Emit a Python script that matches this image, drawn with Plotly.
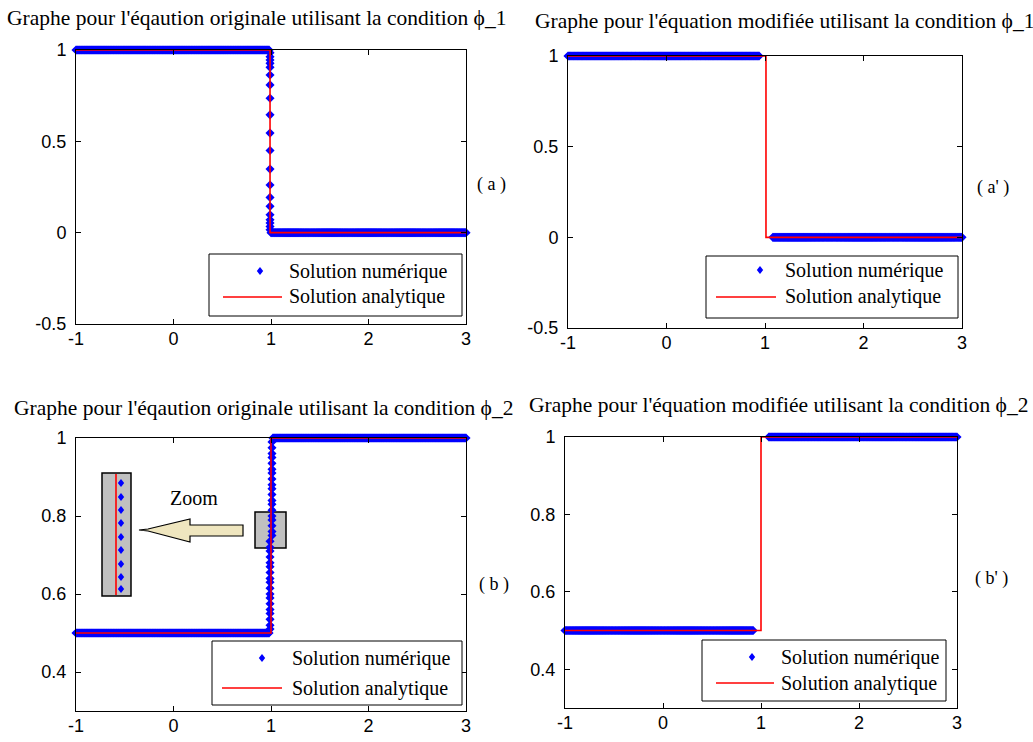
import numpy as np
import plotly.graph_objects as go

W, H = 1033, 742

# ---------------- data ----------------
# discretisation grid of the numerical scheme (step 0.01)
x_grid = np.round(np.arange(-1.0, 3.0001, 0.01), 4)

# (a) original equation, condition phi_1
a_left_val, a_right_val = 1.0, 0.0
a_jump_x = 0.99
a_jump_y = [0.985, 0.963, 0.945, 0.927, 0.905, 0.863, 0.809, 0.736, 0.645, 0.545,
            0.45, 0.348, 0.261, 0.193, 0.144, 0.098, 0.071, 0.053, 0.034, 0.016]
a_num_left_end, a_num_right_start = 0.98, 1.0
a_exact_x = [-1, 0.99, 0.99, 3]
a_exact_y = [1, 1, 0, 0]

# (a') modified equation, condition phi_1
ap_num_left_end, ap_num_right_start = 0.94, 1.08
ap_exact_x = [-1, 1.01, 1.01, 3]
ap_exact_y = [1, 1, 0, 0]

# (b) original equation, condition phi_2
b_left_val, b_right_val = 0.5, 1.0
b_jump_y = [0.51, 0.52, 0.535, 0.55, 0.56, 0.575, 0.59, 0.60, 0.615, 0.63, 0.64, 0.655,
            0.67, 0.68, 0.695, 0.71, 0.72, 0.735, 0.75, 0.76, 0.775, 0.79, 0.80, 0.815,
            0.83, 0.84, 0.855, 0.87, 0.88, 0.895, 0.91, 0.92, 0.935, 0.95, 0.96, 0.975, 0.99]
b_jump_x = [0.99] * 18 + [1.01] * 19
b_num_left_end, b_num_right_start = 0.98, 1.02
b_exact_x = [-1, 1.0, 1.0, 3]
b_exact_y = [0.5, 0.5, 1, 1]

# (b') modified equation, condition phi_2
bp_num_left_end, bp_num_right_start = 0.92, 1.08
bp_exact_x = [-1, 1.0, 1.0, 3]
bp_exact_y = [0.5, 0.5, 1, 1]

x_ticks = [-1, 0, 1, 2, 3]
x_ticktext = ["-1", "0", "1", "2", "3"]
ya_ticks = [-0.5, 0, 0.5, 1]
ya_ticktext = ["-0.5", "0", "0.5", "1"]
yb_ticks = [0.4, 0.6, 0.8, 1]
yb_ticktext = ["0.4", "0.6", "0.8", "1"]

titles = ["Graphe pour l'éqaution originale utilisant la condition \u03d5_1",
          "Graphe pour l'équation modifiée utilisant la condition \u03d5_1",
          "Graphe pour l'éqaution originale utilisant la condition \u03d5_2",
          "Graphe pour l'équation modifiée utilisant la condition \u03d5_2"]
panel_labels = ["( a )", "( a' )", "( b )", "( b' )"]
legend_names = ["Solution numérique", "Solution analytique"]


def fx(px):
    return px / W


def fy(py):
    return 1 - py / H


def step_series(left_end, right_start, left_val, right_val, jx=None, jy=None):
    xl = x_grid[x_grid <= left_end + 1e-9]
    xr = x_grid[x_grid >= right_start - 1e-9]
    xs = list(xl)
    ys = [left_val] * len(xl)
    if jx is not None:
        xs += list(jx)
        ys += list(jy)
    xs += list(xr)
    ys += [right_val] * len(xr)
    return xs, ys


series = [
    step_series(a_num_left_end, a_num_right_start, a_left_val, a_right_val,
                [a_jump_x] * len(a_jump_y), a_jump_y),
    step_series(ap_num_left_end, ap_num_right_start, a_left_val, a_right_val),
    step_series(b_num_left_end, b_num_right_start, b_left_val, b_right_val, b_jump_x, b_jump_y),
    step_series(bp_num_left_end, bp_num_right_start, b_left_val, b_right_val),
]
exact = [(a_exact_x, a_exact_y), (ap_exact_x, ap_exact_y),
         (b_exact_x, b_exact_y), (bp_exact_x, bp_exact_y)]

fig = go.Figure()
for i in range(4):
    ax = "" if i == 0 else str(i + 1)
    xs, ys = series[i]
    fig.add_trace(go.Scatter(x=xs, y=ys, mode="markers", name=legend_names[0],
                             marker=dict(symbol="diamond", size=7, color="#0000FF",
                                         line=dict(width=0)),
                             cliponaxis=False, showlegend=False,
                             xaxis="x" + ax, yaxis="y" + ax))
    ex, ey = exact[i]
    fig.add_trace(go.Scatter(x=ex, y=ey, mode="lines", name=legend_names[1],
                             line=dict(color="#FF0000", width=1.6),
                             cliponaxis=False, showlegend=False,
                             xaxis="x" + ax, yaxis="y" + ax))

domains = [((76, 466), (50, 324)), ((568, 962), (56, 328)),
           ((76, 466), (438, 711)), ((565, 957), (437, 708))]
tick_font = dict(family="Liberation Sans, Arial", size=18, color="black")
layout = dict(width=W, height=H, margin=dict(l=0, r=0, t=0, b=0, autoexpand=False),
              paper_bgcolor="white", plot_bgcolor="white", showlegend=False)
for i, ((x0, x1), (y0, y1)) in enumerate(domains):
    k = "" if i == 0 else str(i + 1)
    common = dict(showline=True, linecolor="black", linewidth=1, mirror="ticks",
                  ticks="inside", ticklen=5, tickcolor="black", tickwidth=1,
                  showgrid=False, zeroline=False, tickfont=tick_font, automargin=False)
    layout["xaxis" + k] = dict(domain=[fx(x0), fx(x1)], range=[-1, 3],
                               tickvals=x_ticks, ticktext=x_ticktext,
                               anchor="y" + k, ticklabelstandoff=-2, **common)
    if i < 2:
        yr, tv, tt = [-0.5, 1], ya_ticks, ya_ticktext
    else:
        yr, tv, tt = [0.3, 1], yb_ticks, yb_ticktext
    layout["yaxis" + k] = dict(domain=[fy(y1), fy(y0)], range=yr, tickvals=tv,
                               ticktext=tt, anchor="x" + k, ticklabelstandoff=5, **common)
fig.update_layout(**layout)

serif = "Liberation Serif, Times New Roman, serif"
ann = []
title_pos = [(5, 18), (533, 21), (12, 408), (527, 405)]
for t, (px, py) in zip(titles, title_pos):
    ann.append(dict(text=t, x=fx(px), y=fy(py), xref="paper", yref="paper",
                    xanchor="left", yanchor="middle", showarrow=False,
                    font=dict(family=serif, size=21.5, color="black")))
label_pos = [(491, 185), (993, 187), (494, 584), (991, 578)]
for t, (px, py) in zip(panel_labels, label_pos):
    ann.append(dict(text=t, x=fx(px), y=fy(py), xref="paper", yref="paper",
                    xanchor="center", yanchor="middle", showarrow=False,
                    font=dict(family=serif, size=18, color="black")))

shapes = []


def diamond(px, py, r=4):
    shapes.append(dict(type="path", xref="paper", yref="paper",
                       xsizemode="pixel", ysizemode="pixel",
                       xanchor=fx(px), yanchor=fy(py),
                       path=f"M0,{r} L{r*0.8},0 L0,{-r} L{-r*0.8},0 Z",
                       fillcolor="#0000FF", line=dict(width=0), layer="above"))


def hline(x0, x1, y, color="#FF0000", w=1.6):
    shapes.append(dict(type="line", xref="paper", yref="paper",
                       x0=fx(x0), x1=fx(x1), y0=fy(y), y1=fy(y),
                       line=dict(color=color, width=w), layer="above"))


# legends (box, marker, line, text x, text ys)
legends = [((209, 254, 462, 316), (260, 271), (223, 282, 297), 287, (271, 297)),
           ((706, 256, 958, 318), (760, 270), (716, 776, 297), 783, (270, 297)),
           ((212, 641, 462, 705), (262, 658), (222, 282, 688), 290, (658, 688)),
           ((702, 640, 946, 701), (752, 657), (716, 774, 683), 779, (657, 683))]
for box, mk, ln, tx, tys in legends:
    shapes.append(dict(type="rect", xref="paper", yref="paper",
                       x0=fx(box[0]), x1=fx(box[2]), y0=fy(box[3]), y1=fy(box[1]),
                       line=dict(color="black", width=1), fillcolor="white", layer="above"))
    diamond(*mk, r=4)
    hline(ln[0], ln[1], ln[2])
    for name, ty in zip(legend_names, tys):
        ann.append(dict(text=name, x=fx(tx), y=fy(ty), xref="paper", yref="paper",
                        xanchor="left", yanchor="middle", showarrow=False,
                        font=dict(family=serif, size=20, color="black")))

# zoom inset decoration in panel (b)
shapes.append(dict(type="rect", xref="paper", yref="paper",
                   x0=fx(255), x1=fx(286), y0=fy(548), y1=fy(512),
                   line=dict(color="black", width=1.5), fillcolor="#C0C0C0", layer="below"))
shapes.append(dict(type="rect", xref="paper", yref="paper",
                   x0=fx(102), x1=fx(131), y0=fy(596), y1=fy(473),
                   line=dict(color="black", width=1.5), fillcolor="#C0C0C0", layer="above"))
shapes.append(dict(type="line", xref="paper", yref="paper", x0=fx(116), x1=fx(116),
                   y0=fy(474), y1=fy(595), line=dict(color="#FF0000", width=1.6),
                   layer="above"))
for py in [483, 497, 510, 523, 537, 550, 564, 577, 589]:
    diamond(121, py, r=4)
arrow_pts = [(139, 530), (148, 529), (190, 519), (190, 525), (243, 525),
             (243, 536), (190, 536), (190, 542), (148, 531)]
path = "M" + " L".join(f"{fx(x):.5f},{fy(y):.5f}" for x, y in arrow_pts) + " Z"
shapes.append(dict(type="path", xref="paper", yref="paper", path=path,
                   fillcolor="#EFE6BF", line=dict(color="black", width=1.2), layer="above"))
ann.append(dict(text="Zoom", x=fx(194), y=fy(498), xref="paper", yref="paper",
                xanchor="center", yanchor="middle", showarrow=False,
                font=dict(family=serif, size=20, color="black")))

fig.update_layout(annotations=ann, shapes=shapes)
fig.write_html("out.html")
